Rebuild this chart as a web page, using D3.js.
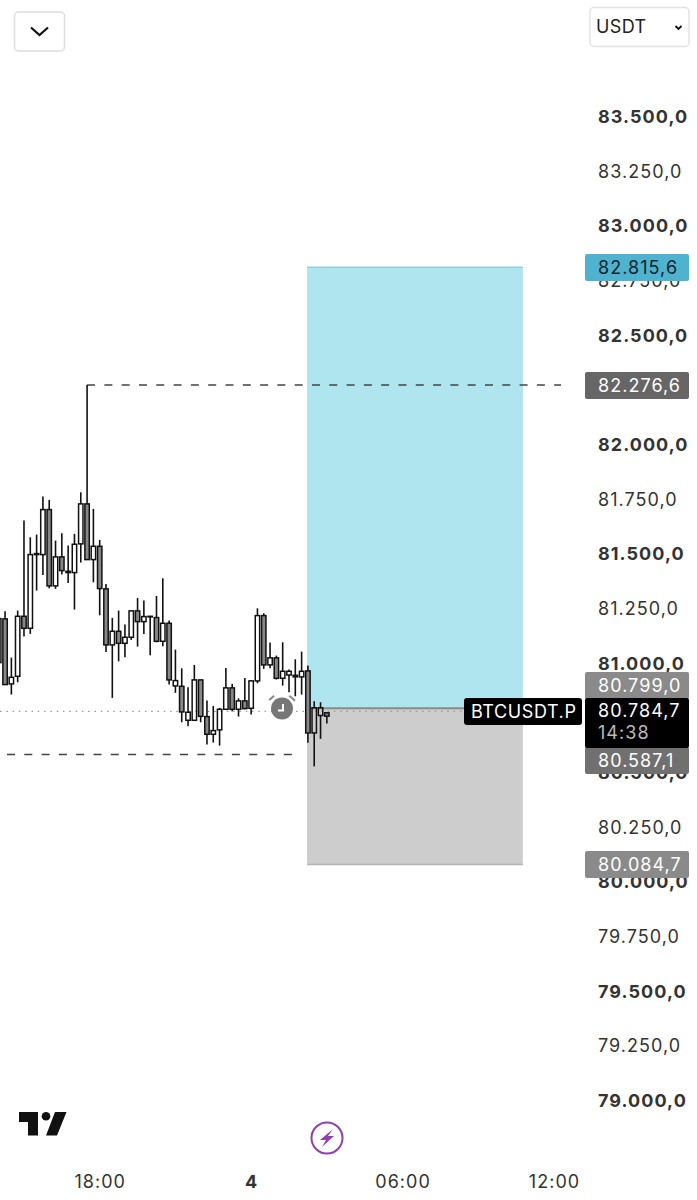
<html>

<head>
    <meta charset="UTF-8" />
    <style>
        body { margin: 0; background: #fff; }
        text { font-family: Inter, Roboto, sans-serif; letter-spacing: 1.05px; }
    </style>
</head>

<body>
    <script src="https://cdn.jsdelivr.net/npm/d3@7"></script>
    <svg id="chart" width="697" height="1200"></svg>

    <script>
        // 15 minute bars, first bar opens at 14:00 on the 3rd
        var firstBar = "2025-03-03T14:00:00Z";
        var opens = [81007.7, 81207.5, 80910.3, 80945, 81219.4, 81164.5, 81501.6, 81501.6, 81707.4, 81358.4, 81491, 81425.2, 81419.2, 81550.6, 81733.4, 81478.7, 81539.5, 81344.7, 81088.6, 81150.8, 81095.9, 81123.4, 81244.1, 81195.2, 81216.7, 81213.5, 81105.1, 81187.4, 80901.1, 80899.3, 80743.8, 80743.8, 80928.5, 80760.7, 80679.8, 80699.9, 80794.1, 80892, 80794.1, 80832.5, 80798.7, 80924, 81222.6, 80997.1, 81029.2, 80935.9, 80951, 80949.6, 80942.3, 80969.7, 80686, 80765.7, 80778];
        var highs = [81236.3, 81242.3, 81030.5, 81245.5, 81657, 81580.7, 81593, 81766.8, 81751.7, 81565.6, 81599, 81542.7, 81596.2, 81786.5, 82276.6, 81710.6, 81568.8, 81367.6, 81212.1, 81245.5, 81181.4, 81245.5, 81303.5, 81291.2, 81219.4, 81312.7, 81393.2, 81199.7, 81067.1, 80981.6, 80894.7, 80997.1, 80928.5, 80833.9, 80809.6, 80800.5, 80983.4, 80910.3, 80844.4, 80937.7, 80925.3, 81256, 81233.1, 81099.1, 81039.7, 81100.5, 80976.1, 81022.8, 81058, 80994, 80831, 80826.4, 80780];
        var lows = [80998.5, 80904.8, 80861.3, 80917.6, 81126.6, 81138.9, 81336.9, 81408.7, 81347.4, 81344.7, 81410.1, 81372.1, 81250, 81465, 81476.4, 81374.9, 81224, 81056.6, 80846.2, 81013.6, 81031.9, 81111.5, 81080.8, 81138.9, 81041, 81100.5, 81082.2, 80907.1, 80869.1, 80734.6, 80716.3, 80741, 80734.6, 80632.7, 80641.8, 80628.1, 80791.3, 80785, 80760.7, 80794.1, 80769.9, 80913, 80978.9, 80981.6, 80929.9, 80902.5, 80871.6, 80853.6, 80861.3, 80641, 80533, 80659, 80729];
        var closes = [81208.9, 80907.1, 80940.4, 81219.4, 81164.5, 81501.6, 81506.1, 81707.4, 81358.4, 81491, 81428.4, 81419.2, 81548.7, 81733.4, 81478.7, 81539.5, 81346.1, 81088.6, 81150.8, 81095.9, 81123.4, 81244.1, 81195.2, 81218, 81219.4, 81105.1, 81187.4, 80928.5, 80925.3, 80782.2, 80780.4, 80928.5, 80762, 80679.8, 80696.7, 80794.1, 80892, 80794.1, 80832.5, 80797.3, 80924, 81222.6, 80997.1, 81029.2, 80935.9, 80967.9, 80967.9, 80942.3, 80967.9, 80686, 80801, 80801, 80762.7];

        // 82.250 and 80.750 sit fully behind the price badges, so they are left out
        var priceTicks = [83500, 83250, 83000, 82750, 82500, 82000, 81750, 81500, 81250, 81000, 80500, 80250, 80000, 79750, 79500, 79250, 79000];
        var timeTicks = ["2025-03-03T18:00:00Z", "2025-03-04T00:00:00Z", "2025-03-04T06:00:00Z", "2025-03-04T12:00:00Z"];

        var targetPrice = 82815.6, entryPrice = 80799, stopPrice = 80084.7;
        var boxStart = "2025-03-04T02:13:00Z", boxEnd = "2025-03-04T10:46:00Z";
        var highLine = 82276.6, lowLine = 80587.1, lastPrice = 80784.7;

        var svg = d3.select("#chart");
        var y = d3.scaleLinear().domain([83500, 79000]).range([117.6, 1101.6]);
        var x = d3.scaleUtc()
            .domain([new Date("2025-03-03T18:00:00Z"), new Date("2025-03-04T12:00:00Z")])
            .range([99.7, 554]);
        var fmt = d3.formatLocale({ decimal: ",", thousands: ".", grouping: [3], currency: ["", ""] }).format(",.1f");

        var barTime = i => d3.utcMinute.offset(new Date(firstBar), i * 15);

        // price axis
        var yAxis = svg.append("g").attr("transform", "translate(598,-0.8)")
            .call(d3.axisRight(y).tickValues(priceTicks).tickSize(0).tickPadding(0).tickFormat(fmt));
        yAxis.select(".domain").remove();
        yAxis.selectAll("text")
            .style("font-family", "Inter, Roboto, sans-serif")
            .style("font-size", "18px")
            .attr("fill", "#333")
            .style("font-weight", d => d % 500 == 0 ? 700 : 400);

        // time axis
        var xAxis = svg.append("g").attr("transform", "translate(0,1175)")
            .call(d3.axisBottom(x).tickValues(timeTicks.map(d => new Date(d))).tickSize(0).tickPadding(0)
                .tickFormat(d => d.getUTCHours() == 0 ? "4" : d3.utcFormat("%H:%M")(d)));
        xAxis.select(".domain").remove();
        xAxis.selectAll("text")
            .style("font-family", "Inter, Roboto, sans-serif")
            .style("font-size", "18px")
            .attr("fill", "#333")
            .style("font-weight", d => d.getUTCHours() == 0 ? 700 : 400);

        // position tool
        var bx0 = x(new Date(boxStart)), bx1 = x(new Date(boxEnd));
        svg.append("rect").attr("x", bx0).attr("y", y(targetPrice)).attr("width", bx1 - bx0)
            .attr("height", y(entryPrice) - y(targetPrice)).attr("fill", "#aee5ee");
        svg.append("rect").attr("x", bx0).attr("y", y(entryPrice)).attr("width", bx1 - bx0)
            .attr("height", y(stopPrice) - y(entryPrice)).attr("fill", "#cdcdcd");
        svg.append("line").attr("x1", bx0).attr("x2", bx1).attr("y1", y(targetPrice)).attr("y2", y(targetPrice))
            .attr("stroke", "#8fd0dc").attr("stroke-width", 1.5);
        svg.append("line").attr("x1", bx0).attr("x2", bx1).attr("y1", y(stopPrice)).attr("y2", y(stopPrice))
            .attr("stroke", "#b5b5b5").attr("stroke-width", 1.5);
        svg.append("line").attr("x1", bx0).attr("x2", bx1).attr("y1", y(entryPrice)).attr("y2", y(entryPrice))
            .attr("stroke", "#8a8a8a").attr("stroke-width", 2);

        // last price dotted line and the two dashed levels
        svg.append("line").attr("x1", 0).attr("x2", 464).attr("y1", y(lastPrice)).attr("y2", y(lastPrice))
            .attr("stroke", "#999").attr("stroke-width", 1.2).attr("stroke-dasharray", "1.5 4.8");
        svg.append("line").attr("x1", x(barTime(14))).attr("x2", 561).attr("y1", y(highLine)).attr("y2", y(highLine))
            .attr("stroke", "#444").attr("stroke-width", 1.5).attr("stroke-dasharray", "8 9.3");
        svg.append("line").attr("x1", 7).attr("x2", 295).attr("y1", y(lowLine)).attr("y2", y(lowLine))
            .attr("stroke", "#444").attr("stroke-width", 1.5).attr("stroke-dasharray", "8 9.3");

        // candles, wick stops at the body so a hollow body shows what is behind it
        var bodyTop = i => Math.max(opens[i], closes[i]);
        var bodyBottom = i => Math.min(opens[i], closes[i]);
        var candles = svg.append("g").selectAll("g").data(d3.range(opens.length)).join("g");
        candles.append("line")
            .attr("x1", i => x(barTime(i))).attr("x2", i => x(barTime(i)))
            .attr("y1", i => y(highs[i])).attr("y2", i => y(bodyTop(i)))
            .attr("stroke", "#111").attr("stroke-width", 1.6);
        candles.append("line")
            .attr("x1", i => x(barTime(i))).attr("x2", i => x(barTime(i)))
            .attr("y1", i => y(bodyBottom(i))).attr("y2", i => y(lows[i]))
            .attr("stroke", "#111").attr("stroke-width", 1.6);
        candles.append("rect")
            .attr("x", i => x(barTime(i)) - 2.2)
            .attr("width", 4.4)
            .attr("y", i => y(bodyTop(i)))
            .attr("height", i => y(bodyBottom(i)) - y(bodyTop(i)))
            .attr("fill", i => closes[i] < opens[i] ? "#888" : "none")
            .attr("stroke", "#111").attr("stroke-width", 1.5);

        // right side price badges
        var badges = [
            { text: fmt(targetPrice), fill: "#4fb3d0", color: "#10242c", top: 254, h: 27 },
            { text: fmt(highLine), fill: "#666", color: "#fff", top: 372, h: 27 },
            { text: fmt(entryPrice), fill: "#8a8a8a", color: "#fff", top: 672, h: 27 },
            { text: fmt(lowLine), fill: "#707070", color: "#fff", top: 747, h: 27 },
            { text: fmt(stopPrice), fill: "#8a8a8a", color: "#fff", top: 851, h: 27 }
        ];
        var badge = svg.append("g").selectAll("g").data(badges).join("g");
        badge.append("rect").attr("x", 585).attr("width", 104).attr("rx", 2)
            .attr("y", d => d.top).attr("height", d => d.h).attr("fill", d => d.fill);
        badge.append("text").attr("x", 598).attr("y", d => d.top + 20)
            .attr("font-size", 18).attr("fill", d => d.color).text(d => d.text);

        // last price box
        svg.append("rect").attr("x", 585).attr("y", 698).attr("width", 104).attr("height", 50).attr("rx", 2).attr("fill", "#000");
        svg.append("text").attr("x", 598).attr("y", 717).attr("font-size", 18).attr("fill", "#fff").text(fmt(lastPrice));
        svg.append("text").attr("x", 598).attr("y", 739).attr("font-size", 18).attr("fill", "#bbb").text("14:38");
        svg.append("rect").attr("x", 464).attr("y", 698).attr("width", 118).attr("height", 27).attr("rx", 3).attr("fill", "#000");
        svg.append("text").attr("x", 471).attr("y", 718).attr("font-size", 18).attr("fill", "#fff").style("letter-spacing", "0.6px").text("BTCUSDT.P");

        // clock icon
        var clock = svg.append("g");
        clock.append("circle").attr("cx", 282).attr("cy", 708.5).attr("r", 11).attr("fill", "#777");
        clock.append("path").attr("d", "M269.3 700L274 695.7M289.3 695.7L295 700.7")
            .attr("stroke", "#888").attr("stroke-width", 2).attr("fill", "none");
        clock.append("path").attr("d", "M283 704V710.5H278")
            .attr("stroke", "#fff").attr("stroke-width", 2).attr("fill", "none");

        // top buttons
        svg.append("rect").attr("x", 14.5).attr("y", 12).attr("width", 50).attr("height", 39).attr("rx", 4)
            .attr("fill", "#fff").attr("stroke", "#ddd").attr("stroke-width", 1.5);
        svg.append("path").attr("d", "M31 27.5L39.5 35L48 27.5").attr("fill", "none").attr("stroke", "#111").attr("stroke-width", 2.2);
        svg.append("rect").attr("x", 590).attr("y", 7.5).attr("width", 99).attr("height", 39).attr("rx", 4)
            .attr("fill", "#fff").attr("stroke", "#e3e3e3").attr("stroke-width", 1.5);
        svg.append("text").attr("x", 596).attr("y", 33).attr("font-size", 18).attr("fill", "#222").style("letter-spacing", "0.4px").text("USDT");
        svg.append("path").attr("d", "M675.5 26L678.5 29L681.5 26").attr("fill", "none").attr("stroke", "#111").attr("stroke-width", 1.8);

        // TradingView logo
        svg.append("path").attr("d", "M19 1112H38V1135.5H28V1122H19ZM55 1112H66.5L57 1135.5H46Z").attr("fill", "#111");
        svg.append("circle").attr("cx", 46).attr("cy", 1116.3).attr("r", 4.3).attr("fill", "#111");

        // bolt icon
        svg.append("circle").attr("cx", 327).attr("cy", 1138).attr("r", 15.5).attr("fill", "#fff")
            .attr("stroke", "#8e3fb0").attr("stroke-width", 2);
        svg.append("path").attr("d", "M333 1129L320 1140H326L322 1147L334 1136H328Z").attr("fill", "#8e3fb0");
    </script>
</body>

</html>
